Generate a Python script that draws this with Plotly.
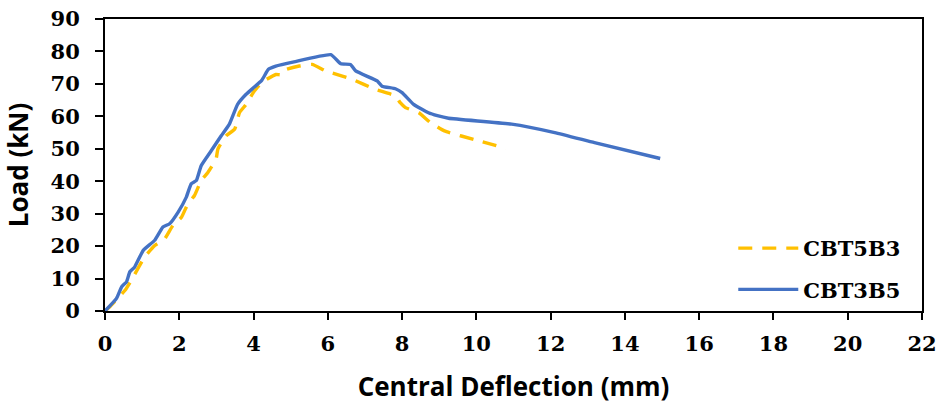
import plotly.graph_objects as go

# CBT5B3 (dashed, yellow)
x_cbt5b3 = [0, 0.13, 0.54, 0.71, 1.07, 1.34, 1.61, 1.83, 2.06, 2.23, 2.41, 2.59, 2.77, 2.99, 3.04,
            3.26, 3.49, 3.62, 3.80, 4.02, 4.24, 4.60, 4.74, 4.87, 5.23, 5.58, 5.94, 6.66, 7.28,
            7.82, 7.95, 8.09, 8.45, 8.76, 9.14, 10.05, 10.8]
y_cbt5b3 = [0, 1.3, 6.4, 9.5, 16.7, 20.2, 22.3, 26.4, 28.9, 33.0, 35.6, 40.2, 42.7, 46.8, 49.9,
            54.0, 56.0, 61.1, 63.7, 67.8, 70.6, 72.9, 72.8, 74.4, 75.5, 76.0, 74.0, 71.4, 68.3,
            66.3, 64.2, 62.7, 61.1, 58.1, 55.5, 52.5, 50.1]

# CBT3B5 (solid, blue)
x_cbt3b5 = [0, 0.31, 0.45, 0.58, 0.67, 0.80, 1.03, 1.34, 1.56, 1.74, 1.97, 2.19, 2.32, 2.46, 2.59,
            2.86, 3.13, 3.35, 3.57, 3.80, 4.22, 4.40, 4.60, 5.09, 6.08, 6.35, 6.61, 6.75, 7.33,
            7.46, 7.82, 8.0, 8.31, 8.71, 8.95, 9.25, 10.95, 12.11, 13.18, 14.95]
y_cbt3b5 = [0, 3.9, 7.5, 9.0, 12.1, 13.6, 18.7, 21.8, 25.9, 26.9, 30.5, 35.1, 39.2, 40.2, 44.8,
            49.4, 54.0, 57.6, 63.7, 66.8, 71.1, 74.5, 75.5, 76.8, 79.0, 76.2, 76.0, 74.0, 70.9,
            69.3, 68.5, 67.3, 63.7, 61.1, 60.2, 59.4, 57.6, 55.0, 51.9, 47.0]

x_ticks = list(range(0, 23, 2))
y_ticks = list(range(0, 91, 10))

fig = go.Figure()
fig.add_trace(go.Scatter(x=x_cbt5b3, y=y_cbt5b3, mode="lines", name="CBT5B3", legendgroup="a",
                         line=dict(color="#FFC000", width=3.4, dash="14px,10px", shape="spline", smoothing=0.4)))
fig.add_trace(go.Scatter(x=x_cbt3b5, y=y_cbt3b5, mode="lines", name="CBT3B5", legendgroup="b",
                         line=dict(color="#4472C4", width=3.4, shape="spline", smoothing=0.4)))

tickfont = dict(family="DejaVu Serif", size=21, color="black", weight="bold")
titlefont = dict(family="Open Sans", size=26, color="black", weight="bold")

fig.update_layout(
    width=941, height=408,
    margin=dict(l=105, r=19, t=19, b=97, autoexpand=False),
    plot_bgcolor="white", paper_bgcolor="white",
    showlegend=True,
    legend=dict(x=0.769, y=0.144, xanchor="left", yanchor="middle",
                font=dict(family="DejaVu Serif", size=21, color="black", weight="bold"),
                bgcolor="rgba(0,0,0,0)", tracegroupgap=11, itemwidth=60),
    xaxis=dict(range=[0, 22], tickvals=x_ticks, ticktext=[str(v) for v in x_ticks],
               showgrid=False, zeroline=False, showline=True, linecolor="black", linewidth=2,
               mirror=True, ticks="outside", ticklen=7, tickwidth=2, tickcolor="black",
               tickfont=tickfont, automargin=False, ticklabelstandoff=6, ticklabeloverflow="allow",
               title=dict(text="Central Deflection (mm)", font=titlefont, standoff=23)),
    yaxis=dict(range=[0, 90], tickvals=y_ticks, ticktext=[str(v) for v in y_ticks],
               showgrid=False, zeroline=False, showline=True, linecolor="black", linewidth=2,
               mirror=True, ticks="outside", ticklen=8, tickwidth=2, tickcolor="black",
               tickfont=tickfont, automargin=False, ticklabelstandoff=11, ticklabeloverflow="allow",
               title=dict(text="Load (kN)", font=titlefont, standoff=23)),
)

fig.write_html("out.html", config={"displayModeBar": False},
               post_script="document.body.style.margin='0';")
